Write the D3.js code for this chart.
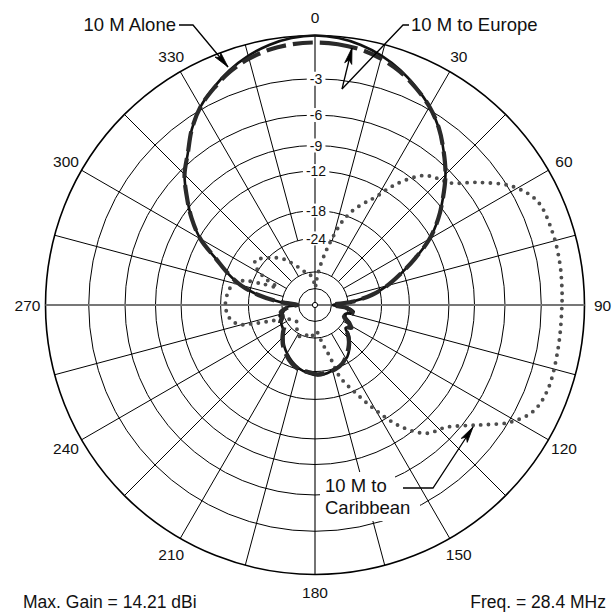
<!DOCTYPE html>
<html>
<head>
<meta charset="utf-8">
<script src="https://cdn.jsdelivr.net/npm/d3@7"></script>
<style>
  html, body { margin: 0; padding: 0; background: #fff; }
  svg { display: block; font-family: "Liberation Sans", Arial, Helvetica, sans-serif; }
</style>
</head>
<body>
<svg id="chart" width="614" height="615"></svg>
<script>
// Azimuth pattern on an ARRL log-periodic radial scale (0 dB = 14.21 dBi)
const ringDb = [-3, -6, -9, -12, -18, -24, -36, -48];
const ringLabelDb = [-3, -6, -9, -12, -18, -24];
const ringLabels = ["-3", "-6", "-9", "-12", "-18", "-24"];
const azTicks = [0, 30, 60, 90, 120, 150, 180, 210, 240, 270, 300, 330];
const azLabels = ["0", "30", "60", "90", "120", "150", "180", "210", "240", "270", "300", "330"];

// 10 M to Europe (solid) and 10 M Alone (dashed) share these azimuths
const europeAz = [0, 5, 10, 15, 20, 25, 30, 35, 40, 45, 50, 55, 60, 65, 70, 75, 80, 85, 90,
  95, 100, 103, 107, 112, 117, 122, 127, 132, 137, 142, 148, 155, 162, 170, 178, 186, 194,
  202, 210, 217, 224, 230, 236, 242, 248, 253, 258, 263, 267,
  270, 275, 280, 285, 290, 295, 300, 305, 310, 315, 320, 325, 330, 335, 340, 345, 350, 355];
const europeDb = [0, -0.1, -0.35, -0.75, -1.3, -2.0, -2.8, -3.8, -5.1, -6.5, -8.2, -10.0, -12.2, -15.3, -18.6, -22.0, -26.5, -34, -47,
  -36, -33, -34.5, -37, -36, -33, -32.5, -33.5, -30.5, -28.5, -27, -25.5, -24.5, -24, -23.3, -23, -23.5, -24.3,
  -25.5, -27, -28.5, -30.5, -32.5, -33, -33.5, -35, -34, -36.5, -37, -40,
  -47, -35, -26.5, -21.5, -18.3, -15.5, -12.2, -10.0, -8.2, -6.5, -5.3, -3.9, -2.8, -2.0, -1.3, -0.75, -0.35, -0.1];
const aloneDb = [-0.45, -0.5, -0.65, -0.95, -1.4, -2.05, -2.8, -3.8, -5.1, -6.5, -8.2, -10.0, -12.2, -15.3, -18.6, -22.0, -26.5, -34, -47,
  -37, -34, -33.5, -36, -37, -34, -31.5, -34, -31, -29, -27.5, -26, -24.5, -23.8, -23.5, -23.3, -23.8, -24,
  -25, -26.5, -28, -30, -32, -34, -33, -34.5, -35.5, -35, -38, -41,
  -47, -35, -26.5, -21.5, -18.3, -15.5, -12.2, -10.0, -8.2, -6.5, -5.3, -3.9, -2.8, -2.05, -1.4, -0.95, -0.65, -0.5];

// 10 M to Caribbean (dotted)
const caribAz = [0, 4, 7, 11, 14, 18, 22, 26, 29, 34, 40, 44, 48, 53, 59, 65, 73, 80, 85, 90,
  100, 110, 116, 121, 125, 128, 133, 139, 145, 150, 155, 161, 164, 169, 178, 188, 198, 206, 215, 228,
  245, 250, 253, 256, 262, 270, 278, 285, 289, 292, 295, 298, 302, 307, 313, 319, 326, 331, 338, 344, 350, 356];
const caribDb = [-47, -40, -34, -28, -24, -19.3, -16.6, -14.8, -13.5, -10.5, -8.0, -7.3, -6.7, -4.8, -2.7, -1.6, -1.4, -1.4, -1.45, -1.5,
  -1.5, -1.45, -1.8, -2.9, -4.4, -5.5, -7.0, -7.9, -10.3, -13.7, -17.4, -21.8, -27.7, -33, -40, -36, -37, -35, -37, -41,
  -36, -30, -25, -21, -19.4, -18.9, -19.2, -20, -22, -27, -32, -27, -23.5, -22, -23.5, -25, -27.2, -29.6, -33, -35.5, -37, -40];

const footerLeft = "Max. Gain = 14.21 dBi";
const footerRight = "Freq. = 28.4 MHz";

// ---- geometry ----
const cx = 315, cy = 305, R = 269.5;
const svg = d3.select("#chart");
svg.append("rect").attr("width", 614).attr("height", 615).attr("fill", "#fff");

// ARRL scale: radius ~ (linear power ratio)^0.2531, i.e. 0.89 per 2 dB
const rScale = d3.scalePow().exponent(0.2531).domain([0, 1]).range([0, R]);
const rad = db => rScale(Math.pow(10, db / 10));
const toRad = a => a * Math.PI / 180;
const px = (a, r) => r * Math.sin(toRad(a));
const py = (a, r) => -r * Math.cos(toRad(a));

const g = svg.append("g").attr("transform", `translate(${cx},${cy})`);
const grid = g.append("g").attr("fill", "none").attr("stroke", "#000");

// rings
grid.selectAll("circle.ring").data(ringDb).join("circle")
  .attr("class", "ring").attr("r", d => rad(d)).attr("stroke-width", 1);
grid.append("circle").attr("r", R).attr("stroke-width", 1.6);

// spokes every 15 degrees
const shortSpokes = [15, 165, 195, 345];
const spokes = d3.range(0, 360, 15).filter(a => a % 90 !== 0);
const spokeStart = a => shortSpokes.includes(a) ? rad(-24) : rad(-36);
grid.selectAll("line.spoke").data(spokes).join("line")
  .attr("class", "spoke")
  .attr("x1", a => px(a, spokeStart(a)))
  .attr("y1", a => py(a, spokeStart(a)))
  .attr("x2", a => px(a, R)).attr("y2", a => py(a, R))
  .attr("stroke-width", 1);
// main axes
grid.append("line").attr("x1", 0).attr("y1", -R).attr("x2", 0).attr("y2", R).attr("stroke-width", 1.1);
grid.append("line").attr("x1", -R).attr("y1", 0).attr("x2", R).attr("y2", 0)
  .attr("stroke", "#777").attr("stroke-width", 2);

// azimuth labels
g.selectAll("text.az").data(azTicks).join("text")
  .attr("class", "az")
  .attr("x", (a) => px(a, R + 18))
  .attr("y", (a) => py(a, R + 18))
  .attr("dy", "0.36em")
  .attr("text-anchor", "middle")
  .attr("font-size", 15.5)
  .attr("fill", "#111")
  .text((a, i) => azLabels[i]);

// dB labels on the 0-degree axis with white backing
const dbG = g.append("g");
ringLabelDb.forEach((d, i) => {
  const y = -rad(d);
  const t = dbG.append("text").attr("x", 1).attr("y", y).attr("dy", "0.36em")
    .attr("text-anchor", "middle").attr("font-size", 14).attr("fill", "#111").text(ringLabels[i]);
  const bb = t.node().getBBox();
  dbG.insert("rect", "text").attr("x", bb.x - 3).attr("y", y - 7)
    .attr("width", bb.width + 6).attr("height", 14).attr("fill", "#fff");
});

// ---- pattern curves ----
const radial = d3.lineRadial()
  .angle(d => toRad(d[0]))
  .radius(d => rad(d[1]))
  .curve(d3.curveCatmullRomClosed.alpha(0.5));

const carib = caribAz.map((a, i) => [a, caribDb[i]]);
const europe = europeAz.map((a, i) => [a, europeDb[i]]);
const alone = europeAz.map((a, i) => [a, aloneDb[i]]);

g.append("path").datum(carib).attr("d", radial)
  .attr("fill", "none").attr("stroke", "#4d4d4d").attr("stroke-width", 3.9)
  .attr("stroke-linecap", "round").attr("stroke-dasharray", "0 7.8");

g.append("path").datum(europe).attr("d", radial)
  .attr("fill", "none").attr("stroke", "#111").attr("stroke-width", 2.6)
  .attr("stroke-linejoin", "round");

g.append("path").datum(alone).attr("d", radial)
  .attr("fill", "none").attr("stroke", "#2a2a2a").attr("stroke-width", 4.2)
  .attr("stroke-dasharray", "20 7").attr("stroke-linejoin", "round");

// centre marker
g.append("circle").attr("r", 2.6).attr("fill", "#fff").attr("stroke", "#000").attr("stroke-width", 1);

// ---- annotations ----
const ann = svg.append("g").attr("font-size", 18.5).attr("fill", "#111");

function leader(points, withArrow) {
  ann.append("path").attr("d", d3.line()(points))
    .attr("fill", "none").attr("stroke", "#000").attr("stroke-width", 1.3);
  if (withArrow) {
    const [x0, y0] = points[points.length - 2];
    const [x1, y1] = points[points.length - 1];
    const ang = Math.atan2(y1 - y0, x1 - x0) * 180 / Math.PI;
    ann.append("path").attr("d", "M0,0 L-16,-3.6 L-12,0 L-16,3.6 Z")
      .attr("transform", `translate(${x1},${y1}) rotate(${ang})`)
      .attr("fill", "#000").attr("stroke", "#000").attr("stroke-width", 0.8);
  }
}

ann.append("text").attr("x", 176).attr("y", 31).attr("text-anchor", "end").text("10 M Alone");
leader([[179, 25], [193, 25], [228, 67]], true);

ann.append("text").attr("x", 411).attr("y", 31).text("10 M to Europe");
leader([[409, 25], [403, 25], [342, 89]], false);
leader([[342, 89], [352, 48]], true);

// Caribbean label with white backing over the grid
ann.append("rect").attr("x", 320).attr("y", 472).attr("width", 75).attr("height", 25).attr("fill", "#fff");
ann.append("rect").attr("x", 320).attr("y", 496).attr("width", 100).attr("height", 25).attr("fill", "#fff");
ann.append("text").attr("x", 325).attr("y", 491.5).text("10 M to");
ann.append("text").attr("x", 325).attr("y", 513.5).text("Caribbean");
leader([[403, 488], [433, 488], [473, 427]], true);

// footer
svg.append("text").attr("x", 23).attr("y", 608).attr("font-size", 17.5).attr("fill", "#111").text(footerLeft);
svg.append("text").attr("x", 606).attr("y", 608).attr("text-anchor", "end").attr("font-size", 17.5).attr("fill", "#111").text(footerRight);
</script>
</body>
</html>
